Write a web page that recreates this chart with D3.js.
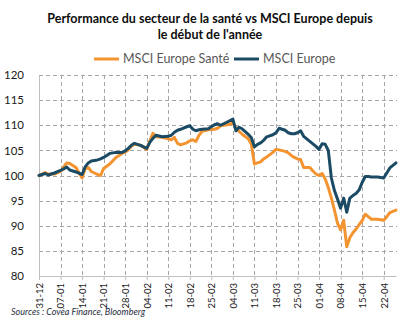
<!DOCTYPE html>
<html>
<head>
<meta charset="utf-8">
<script src="https://cdn.jsdelivr.net/npm/d3@7"></script>
<style>
  body { margin: 0; background: #fff; }
  svg { display: block; font-family: Lato, 'Liberation Sans', sans-serif; }
  .grid line { shape-rendering: crispEdges; }
</style>
</head>
<body>
<svg id="chart" width="416" height="332"></svg>
<script>
// Séances (dates) et niveaux des deux indices, base 100 au 31-12
const dates = [
  '2021-12-31', '2022-01-02', '2022-01-03', '2022-01-05', '2022-01-07', '2022-01-08', '2022-01-09', '2022-01-10',
  '2022-01-12', '2022-01-14', '2022-01-15', '2022-01-16', '2022-01-17', '2022-01-19', '2022-01-20', '2022-01-21',
  '2022-01-23', '2022-01-25', '2022-01-27', '2022-01-28', '2022-01-29', '2022-01-30', '2022-01-31', '2022-02-02',
  '2022-02-04', '2022-02-05', '2022-02-06', '2022-02-07', '2022-02-09', '2022-02-11', '2022-02-12', '2022-02-13',
  '2022-02-14', '2022-02-15', '2022-02-17', '2022-02-18', '2022-02-19', '2022-02-20', '2022-02-21', '2022-02-22',
  '2022-02-24', '2022-02-26', '2022-02-27', '2022-02-28', '2022-03-02', '2022-03-04', '2022-03-05', '2022-03-06',
  '2022-03-07', '2022-03-09', '2022-03-10', '2022-03-11', '2022-03-12', '2022-03-13', '2022-03-14', '2022-03-15',
  '2022-03-17', '2022-03-18', '2022-03-19', '2022-03-21', '2022-03-22', '2022-03-23', '2022-03-24', '2022-03-25',
  '2022-03-26', '2022-03-27', '2022-03-29', '2022-03-30', '2022-03-31', '2022-04-01', '2022-04-02', '2022-04-03',
  '2022-04-04', '2022-04-05', '2022-04-06', '2022-04-07', '2022-04-08', '2022-04-09', '2022-04-10', '2022-04-11',
  '2022-04-12', '2022-04-13', '2022-04-14', '2022-04-15', '2022-04-16', '2022-04-17', '2022-04-18', '2022-04-20',
  '2022-04-22', '2022-04-23', '2022-04-24', '2022-04-26'
]

const msciEurope = [
  100.0, 100.4, 100.1, 100.5, 101.0, 101.3, 101.7, 101.1,
  100.7, 100.2, 101.7, 102.5, 102.9, 103.1, 103.3, 103.6,
  104.4, 104.6, 104.6, 104.9, 105.4, 106.0, 106.4, 106.0,
  105.4, 106.6, 107.4, 108.0, 107.7, 107.8, 108.0, 108.6,
  109.0, 109.2, 109.7, 109.9, 109.2, 108.9, 109.1, 109.2,
  109.3, 110.1, 110.3, 110.0, 110.6, 111.2, 108.9, 109.6,
  109.3, 108.2, 107.5, 105.7, 106.2, 106.5, 107.0, 107.7,
  108.1, 108.5, 109.4, 109.0, 108.5, 108.3, 108.3, 108.5,
  108.9, 107.8, 106.8, 106.3, 105.8, 105.2, 106.3, 106.2,
  105.0, 99.5, 97.0, 95.3, 93.5, 95.5, 92.7, 95.5,
  96.0, 96.4, 97.1, 98.6, 99.8, 99.8, 99.7, 99.7,
  99.5, 100.5, 101.5, 102.5
]

const msciEuropeSante = [
  100.0, 100.6, 100.3, 100.3, 100.8, 101.7, 102.5, 102.4,
  101.6, 99.5, 101.4, 101.6, 100.8, 100.2, 100.0, 101.4,
  102.3, 103.6, 104.4, 104.7, 105.1, 105.8, 106.2, 106.0,
  105.2, 106.8, 108.4, 107.7, 107.6, 107.3, 107.1, 107.6,
  106.4, 106.1, 106.5, 106.9, 107.1, 106.8, 108.0, 108.8,
  109.1, 109.2, 109.4, 109.9, 110.1, 110.4, 109.5, 108.8,
  108.2, 107.3, 106.2, 102.3, 102.5, 102.7, 103.3, 103.7,
  104.6, 105.2, 105.1, 104.8, 104.5, 104.0, 103.6, 103.3,
  103.2, 101.6, 101.6, 100.9, 100.3, 100.0, 100.4, 99.3,
  97.6, 95.5, 93.1, 90.5, 89.2, 91.1, 85.8, 87.6,
  88.6, 89.3, 90.2, 91.0, 92.3, 91.8, 91.3, 91.3,
  91.1, 91.8, 92.6, 93.1
]

const tickDates = [
  '2021-12-31', '2022-01-07', '2022-01-14', '2022-01-21', '2022-01-28', '2022-02-04', '2022-02-11',
  '2022-02-18', '2022-02-25', '2022-03-04', '2022-03-11', '2022-03-18', '2022-03-25', '2022-04-01',
  '2022-04-08', '2022-04-15', '2022-04-22'
]
const yTicks = [80, 85, 90, 95, 100, 105, 110, 115, 120]

const seriesNames = ['MSCI Europe Santé', 'MSCI Europe']
const seriesColors = ['#f39431', '#1b4b64']

const parse = d3.timeParse('%Y-%m-%d')
const xDates = dates.map(parse)
const xTicks = tickDates.map(parse)

const margin = { left: 39, right: 19, top: 75, bottom: 56 }
const width = 416 - margin.left - margin.right
const height = 332 - margin.top - margin.bottom
const gridColor = '#a6a6a6'

const svg = d3.select('#chart')
const g = svg.append('g')
  .attr('transform', 'translate(' + margin.left + ',' + margin.top + ')')

const xScale = d3.scaleTime()
  .domain([parse('2021-12-31'), parse('2022-04-26')])
  .range([0, width - 1])

const yScale = d3.scaleLinear()
  .domain([80, 120])
  .range([height, 0])

// grille horizontale pointillée
g.append('g')
  .attr('class', 'grid')
  .selectAll('line')
  .data(yTicks.slice(1))
  .enter()
  .append('line')
  .attr('x1', 0)
  .attr('x2', width)
  .attr('y1', d => Math.round(yScale(d)) + 0.5)
  .attr('y2', d => Math.round(yScale(d)) + 0.5)
  .attr('stroke', gridColor)
  .attr('stroke-dasharray', '4,3')

// grille verticale pointillée, une ligne par semaine
g.append('g')
  .attr('class', 'grid')
  .selectAll('line')
  .data(xTicks.slice(1))
  .enter()
  .append('line')
  .attr('x1', d => Math.round(xScale(d)) + 0.5)
  .attr('x2', d => Math.round(xScale(d)) + 0.5)
  .attr('y1', 0)
  .attr('y2', height)
  .attr('stroke', gridColor)
  .attr('stroke-width', 1.2)
  .attr('stroke-dasharray', '4,3')

// axe Y
const yAxis = g.append('g')
  .attr('class', 'y axis')
  .call(d3.axisLeft(yScale).tickValues(yTicks).tickSize(0).tickPadding(15))
yAxis.select('.domain').attr('stroke', '#bfbfbf')
yAxis.selectAll('text')
  .attr('fill', '#1a1a1a')
  .attr('font-size', 11.5)
  .attr('font-family', 'Lato, sans-serif')

// axe X avec étiquettes verticales
const xAxis = g.append('g')
  .attr('class', 'x axis')
  .attr('transform', 'translate(0,' + height + ')')
  .call(d3.axisBottom(xScale)
    .tickValues(xTicks)
    .tickFormat(d3.timeFormat('%d-%m'))
    .tickSize(4)
    .tickSizeOuter(0))
xAxis.select('.domain').attr('stroke', '#bfbfbf')
xAxis.selectAll('.tick line').attr('stroke', '#bfbfbf')
xAxis.selectAll('text')
  .attr('transform', 'rotate(-90)')
  .attr('x', -7)
  .attr('y', 0)
  .attr('dy', '0.35em')
  .style('text-anchor', 'end')
  .attr('fill', '#1a1a1a')
  .attr('font-size', 9.5)
  .attr('font-family', 'Lato, sans-serif')

// courbes
const line = d3.line()
  .x((d, i) => xScale(xDates[i]))
  .y(d => yScale(d))

const series = [msciEuropeSante, msciEurope]
g.append('g')
  .selectAll('path')
  .data(series)
  .enter()
  .append('path')
  .attr('d', d => line(d))
  .attr('fill', 'none')
  .attr('stroke', (d, i) => seriesColors[i])
  .attr('stroke-width', 3)
  .attr('stroke-linejoin', 'round')
  .attr('stroke-linecap', 'round')

// titre
const title = svg.append('text')
  .attr('x', 210)
  .attr('y', 23)
  .attr('text-anchor', 'middle')
  .attr('font-weight', 'bold')
  .attr('font-size', 12.5)
  .attr('fill', '#0d0d0d')
title.append('tspan').attr('x', 210).text('Performance du secteur de la santé vs MSCI Europe depuis')
title.append('tspan').attr('x', 210).attr('dy', 16).text("le début de l'année")

// légende
const legendX = [94, 234]
const legend = svg.append('g')
  .selectAll('g')
  .data(seriesNames)
  .enter()
  .append('g')
  .attr('transform', (d, i) => 'translate(' + legendX[i] + ',59)')
legend.append('line')
  .attr('x1', 0)
  .attr('x2', 25)
  .attr('stroke', (d, i) => seriesColors[i])
  .attr('stroke-width', 3)
legend.append('text')
  .attr('x', 29)
  .attr('dy', '0.35em')
  .attr('font-size', 12.5)
  .attr('fill', '#595959')
  .text(d => d)

// source
svg.append('text')
  .attr('x', 11)
  .attr('y', 315)
  .attr('font-size', 9)
  .attr('font-style', 'italic')
  .attr('fill', '#1f2d3d')
  .text('Sources : Covéa Finance, Bloomberg')
</script>
</body>
</html>
